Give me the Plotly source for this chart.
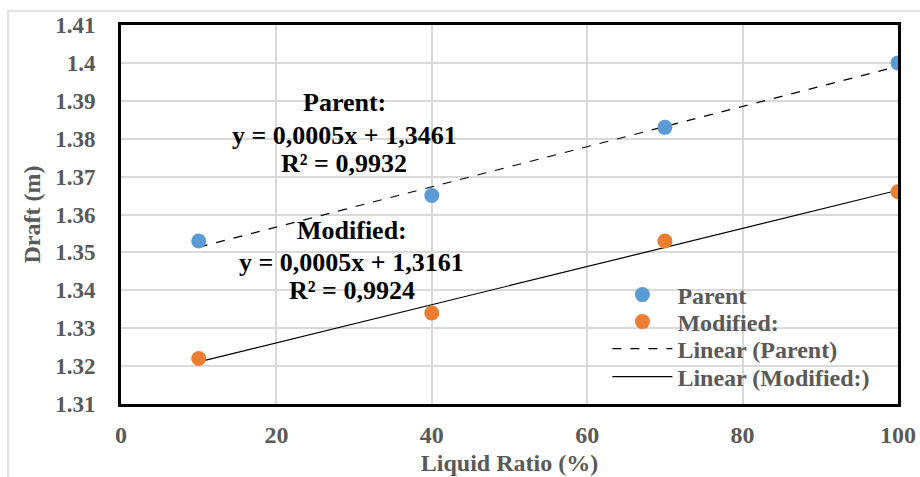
import numpy as np
import plotly.graph_objects as go

# ---- data ----
liquid_ratio = [10, 40, 70, 100]
parent_draft = [1.353, 1.365, 1.383, 1.400]
modified_draft = [1.322, 1.334, 1.353, 1.366]

y_tickvals = [1.31, 1.32, 1.33, 1.34, 1.35, 1.36, 1.37, 1.38, 1.39, 1.40, 1.41]
y_ticktext = ["1.31", "1.32", "1.33", "1.34", "1.35", "1.36", "1.37", "1.38", "1.39", "1.4", "1.41"]
x_tickvals = [0, 20, 40, 60, 80, 100]

parent_lines = ["Parent:", "y = 0,0005x + 1,3461", "R² = 0,9932"]
modified_lines = ["Modified:", "y = 0,0005x + 1,3161", "R² = 0,9924"]

# ---- trendlines (least squares from the data) ----
xs = np.array(liquid_ratio, dtype=float)
pp = np.polyfit(xs, parent_draft, 1)
pm = np.polyfit(xs, modified_draft, 1)
x_fit = [xs.min(), xs.max()]
parent_fit = list(np.polyval(pp, x_fit))
modified_fit = list(np.polyval(pm, x_fit))

FONT = "Liberation Serif"
GRAY = "#595959"

fig = go.Figure()
fig.add_trace(go.Scatter(x=x_fit, y=parent_fit, mode="lines", name="Linear (Parent)",
                         line=dict(color="black", width=1.2, dash="dash"), legend="legend3"))
fig.add_trace(go.Scatter(x=x_fit, y=modified_fit, mode="lines", name="Linear (Modified:)",
                         line=dict(color="black", width=1.2), legend="legend4"))
fig.add_trace(go.Scatter(x=liquid_ratio, y=parent_draft, mode="markers", name="Parent",
                         marker=dict(color="#5b9bd5", size=15), legend="legend"))
fig.add_trace(go.Scatter(x=liquid_ratio, y=modified_draft, mode="markers", name="Modified:",
                         marker=dict(color="#ed7d31", size=15), legend="legend2"))

def leg(py):
    return dict(x=0.626, y=(404 - py) / 379, xanchor="left", yanchor="middle",
                font=dict(family=FONT, size=24, color=GRAY, weight="bold"),
                bgcolor="rgba(0,0,0,0)", itemwidth=60)

annos = []
for txt, py in zip(parent_lines, [102, 135, 163]):
    annos.append(dict(x=28.7, y=1.41 - (py - 25) / 3790, xref="x", yref="y", text="<b>" + txt + "</b>",
                      showarrow=False, font=dict(family=FONT, size=26, color="black")))
for txt, py in zip(modified_lines, [230, 262, 290]):
    annos.append(dict(x=29.7, y=1.41 - (py - 25) / 3790, xref="x", yref="y", text="<b>" + txt + "</b>",
                      showarrow=False, font=dict(family=FONT, size=26, color="black")))

fig.update_layout(
    width=920, height=477,
    margin=dict(l=121, r=22, t=25, b=73, autoexpand=False),
    paper_bgcolor="white", plot_bgcolor="white",
    font=dict(family=FONT, color=GRAY, size=22),
    showlegend=True,
    legend=leg(295), legend2=leg(322), legend3=leg(349), legend4=leg(377),
    xaxis=dict(range=[0, 100], tickvals=x_tickvals, showgrid=True, gridcolor="#d9d9d9", gridwidth=1.5,
               showline=True, linecolor="black", linewidth=3, mirror=True, zeroline=False,
               ticks="", ticklabelstandoff=7, automargin=False,
               tickfont=dict(family=FONT, size=24, color=GRAY, weight="bold"),
               title=dict(text="<b>Liquid Ratio (%)</b>", font=dict(family=FONT, size=24, color=GRAY), standoff=8)),
    yaxis=dict(range=[1.31, 1.41], tickvals=y_tickvals, ticktext=y_ticktext, showgrid=True,
               gridcolor="#d9d9d9", gridwidth=1.5,
               showline=True, linecolor="black", linewidth=3, mirror=True, zeroline=False,
               ticks="", ticklabelstandoff=18, automargin=False,
               tickfont=dict(family=FONT, size=23, color=GRAY, weight="bold"),
               title=dict(text="<b>Draft (m)</b>", font=dict(family=FONT, size=24, color=GRAY), standoff=8)),
    shapes=[dict(type="rect", xref="paper", yref="paper", x0=-0.1454, x1=1.2, y0=-0.5, y1=1.037,
                 line=dict(color="#d9d9d9", width=1.5), fillcolor="rgba(0,0,0,0)", layer="below")],
    annotations=annos,
)

fig.write_html("out.html")
